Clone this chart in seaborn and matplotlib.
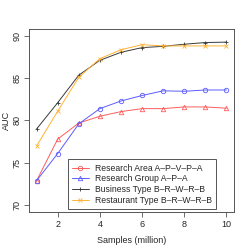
import numpy as np
import pandas as pd
import matplotlib
matplotlib.use("Agg")
import matplotlib.pyplot as plt
from matplotlib.lines import Line2D
import seaborn as sns

# values
samples = [1, 2, 3, 4, 5, 6, 7, 8, 9, 10]
research_area = [72.9, 77.8, 79.7, 80.5, 81.05, 81.4, 81.4, 81.6, 81.6, 81.45]
research_group = [72.9, 76.1, 79.6, 81.4, 82.3, 82.95, 83.5, 83.45, 83.6, 83.6]
business_type = [79.0, 82.1, 85.35, 87.1, 88.05, 88.6, 88.75, 89.0, 89.2, 89.25]
restaurant_type = [77.0, 81.1, 85.1, 87.3, 88.35, 88.95, 88.8, 88.8, 88.8, 88.8]

names = ["Research Area A\u2013P\u2013V\u2013P\u2013A", "Research Group A\u2013P\u2013A",
         "Business Type B\u2013R\u2013W\u2013R\u2013B", "Restaurant Type B\u2013R\u2013W\u2013R\u2013B"]
colors = ["#ff5c5c", "#5c5cff", "#3a3a3a", "#ffb333"]
plot_markers = ["^", "o", "+", "x"]
legend_markers = ["o", "^", "+", "x"]

df = pd.DataFrame({
    "samples": samples * 4,
    "auc": research_area + research_group + business_type + restaurant_type,
    "series": np.repeat(names, len(samples)),
})

sns.set_style("white")
plt.rcParams["font.family"] = ["Liberation Sans", "DejaVu Sans"]

fig = plt.figure(figsize=(2.49, 2.49), dpi=100)
ax = fig.add_axes([0.1165, 0.1486, 0.8233, 0.735])

for name, c, m in zip(names, colors, plot_markers):
    sub = df[df["series"] == name]
    sns.lineplot(data=sub, x="samples", y="auc", ax=ax, color=c, lw=0.7,
                 marker=m, markersize=3.2, markerfacecolor="none",
                 markeredgecolor=c, markeredgewidth=0.6, legend=False)

ax.set_xlim(0.64, 10.36)
ax.set_ylim(69.2, 90.8)
ax.set_xticks([2, 4, 6, 8, 10])
ax.set_yticks([70, 75, 80, 85, 90])
ax.tick_params(axis="both", labelsize=6.5, length=3.5, width=0.6, color="#555555",
               pad=2, bottom=True, left=True)
for lbl in ax.get_yticklabels():
    lbl.set_rotation(90)
    lbl.set_va("center")
for sp in ax.spines.values():
    sp.set_color("#555555")
    sp.set_linewidth(0.7)
ax.set_xlabel("Samples (million)", fontsize=6.5, labelpad=5)
ax.set_ylabel("AUC", fontsize=6.5, labelpad=1)

handles = [Line2D([], [], color=c, marker=m, lw=0.7, markersize=3.2,
                  markerfacecolor="none", markeredgewidth=0.6)
           for c, m in zip(colors, legend_markers)]
leg = ax.legend(handles, names, loc="lower left", bbox_to_anchor=(0.19, 0.016),
                borderaxespad=0, fontsize=6.2, fancybox=False, framealpha=1,
                handlelength=1.9, handletextpad=0.7, labelspacing=0.2,
                borderpad=0.5)
leg.get_frame().set_edgecolor("#555555")
leg.get_frame().set_linewidth(0.7)

fig.savefig("out.png", dpi=100)
